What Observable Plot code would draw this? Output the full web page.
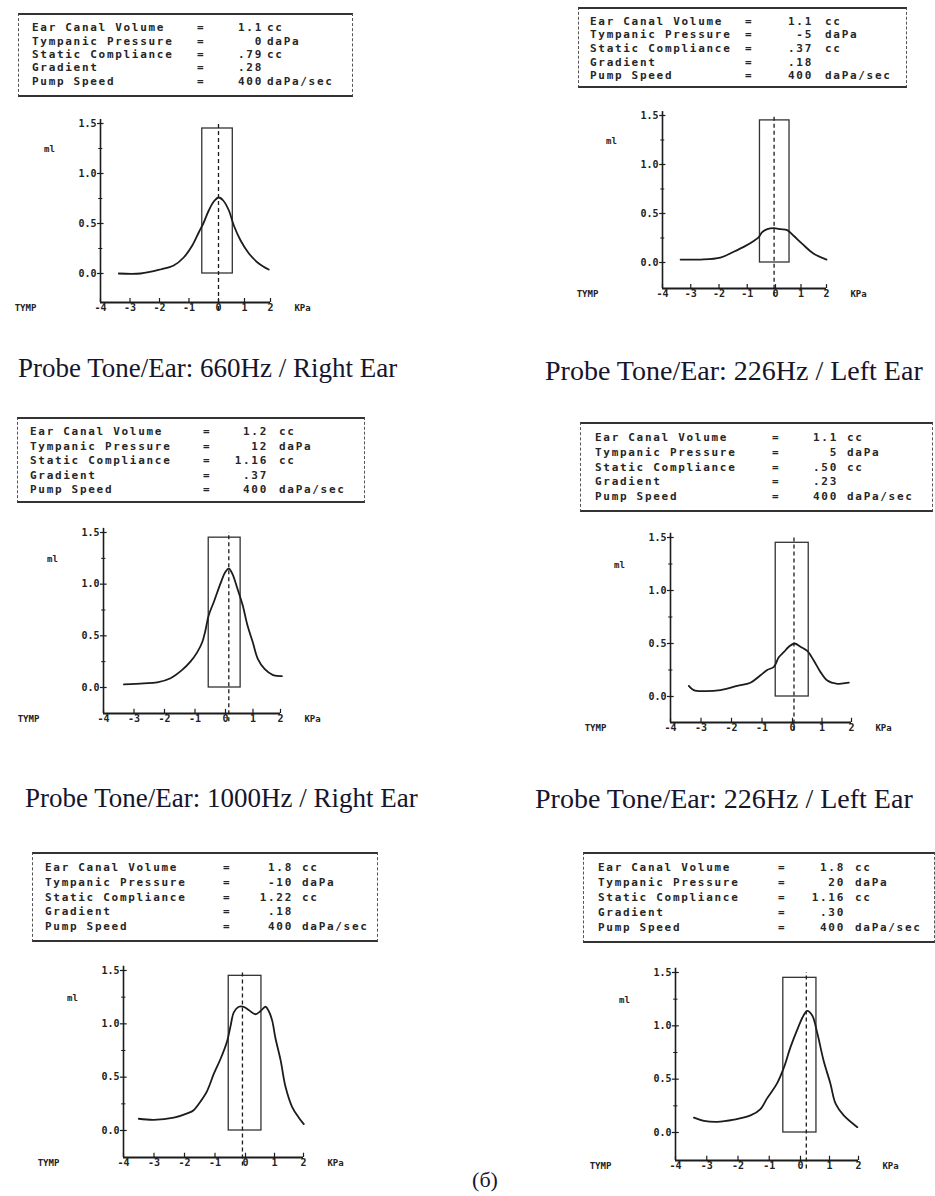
<!DOCTYPE html>
<html><head><meta charset="utf-8">
<script src="https://cdn.jsdelivr.net/npm/d3@7"></script>
<script src="https://cdn.jsdelivr.net/npm/@observablehq/plot@0.6"></script>
<style>
body{margin:0;background:#fff;width:935px;height:1196px;position:relative;overflow:hidden}
.box{position:absolute;box-sizing:border-box;border-top:2px solid #333;border-bottom:2px solid #333;border-left:1.5px dashed #555;border-right:1.5px dashed #555}
.row{position:absolute;font-family:"DejaVu Sans Mono",monospace;font-size:11px;font-weight:bold;letter-spacing:1.7px;color:#262626;white-space:pre;line-height:12px;height:12px}
.row span{position:absolute;top:0}
.cap{position:absolute;font-family:"Liberation Serif",serif;color:#15152e;white-space:pre;line-height:1}
</style></head>
<body>
<script>
// ---------------- data ----------------
const infoLabels = ["Ear Canal Volume", "Tympanic Pressure", "Static Compliance", "Gradient", "Pump Speed"];
const infoUnits = ["cc", "daPa", "cc", "", "daPa/sec"];
const values1 = ["1.1", "0", ".79", ".28", "400"];
const values2 = ["1.1", "-5", ".37", ".18", "400"];
const values3 = ["1.2", "12", "1.16", ".37", "400"];
const values4 = ["1.1", "5", ".50", ".23", "400"];
const values5 = ["1.8", "-10", "1.22", ".18", "400"];
const values6 = ["1.8", "20", "1.16", ".30", "400"];
const tympPressure = [0, -5, 12, 5, -10, 20]; // daPa, dashed marker
const captions = ["Probe Tone/Ear: 660Hz / Right Ear", "Probe Tone/Ear: 226Hz / Left Ear",
                  "Probe Tone/Ear: 1000Hz / Right Ear", "Probe Tone/Ear: 226Hz / Left Ear"];
const footnote = "(б)";
const xTicks = [-4, -3, -2, -1, 0, 1, 2];
const yTicks = [0, 0.5, 1.0, 1.5];
const yMinorTicks = [0.25, 0.75, 1.25];
const normalBoxX = [-0.55, 0.55];
const normalBoxY = [0, 1.45];

const curve1 = [[-3.38,0.00],[-2.64,0.00],[-1.97,0.04],[-1.52,0.08],[-1.18,0.16],[-0.89,0.28],[-0.67,0.41],[-0.50,0.51],[-0.33,0.63],[-0.16,0.72],[0.01,0.76],[0.18,0.73],[0.40,0.63],[0.59,0.48],[0.85,0.33],[1.17,0.20],[1.55,0.10],[1.93,0.04]];
const curve2 = [[-3.36,0.03],[-2.65,0.03],[-1.95,0.05],[-1.48,0.11],[-1.06,0.17],[-0.77,0.22],[-0.59,0.26],[-0.47,0.31],[-0.29,0.34],[-0.06,0.35],[0.20,0.34],[0.46,0.33],[0.72,0.27],[1.05,0.19],[1.50,0.09],[2.00,0.03]];
const curve3 = [[-3.33,0.03],[-2.68,0.04],[-2.24,0.05],[-1.80,0.09],[-1.42,0.17],[-1.15,0.25],[-0.93,0.34],[-0.76,0.44],[-0.66,0.55],[-0.55,0.70],[-0.38,0.83],[-0.16,1.01],[0.00,1.12],[0.12,1.15],[0.25,1.10],[0.43,0.96],[0.62,0.80],[0.80,0.60],[0.99,0.44],[1.17,0.28],[1.42,0.18],[1.73,0.12],[2.05,0.11]];
const curve4 = [[-3.40,0.10],[-3.24,0.06],[-2.91,0.05],[-2.36,0.06],[-1.81,0.10],[-1.38,0.13],[-1.05,0.20],[-0.83,0.25],[-0.61,0.28],[-0.45,0.37],[-0.28,0.42],[-0.12,0.47],[0.07,0.50],[0.27,0.47],[0.50,0.43],[0.72,0.34],[0.95,0.23],[1.18,0.15],[1.52,0.12],[1.91,0.13]];
const curve5 = [[-3.50,0.11],[-3.01,0.10],[-2.35,0.12],[-1.91,0.16],[-1.70,0.19],[-1.48,0.27],[-1.26,0.37],[-1.04,0.53],[-0.82,0.67],[-0.60,0.84],[-0.49,0.98],[-0.38,1.11],[-0.22,1.16],[-0.06,1.16],[0.11,1.13],[0.34,1.09],[0.52,1.12],[0.69,1.16],[0.80,1.12],[0.92,1.03],[1.03,0.87],[1.21,0.66],[1.38,0.41],[1.61,0.22],[1.84,0.12],[2.01,0.06]];
const curve6 = [[-3.41,0.14],[-3.09,0.11],[-2.67,0.10],[-2.13,0.12],[-1.60,0.16],[-1.28,0.22],[-1.07,0.32],[-0.75,0.46],[-0.53,0.61],[-0.32,0.80],[-0.11,0.96],[0.11,1.10],[0.23,1.14],[0.40,1.10],[0.58,0.93],[0.80,0.67],[1.03,0.46],[1.21,0.27],[1.49,0.16],[1.96,0.05]];

const allValues = [values1, values2, values3, values4, values5, values6];
const allCurves = [curve1, curve2, curve3, curve4, curve5, curve6];

// ---------------- layout (pixels) ----------------
const boxLayout = [
  {l:18, t:13, r:353, b:97, tx:32, y0:28.3, dy:13.35, eq:165, vr:231, un:235},
  {l:578, t:7, r:907, b:88, tx:590, y0:21.7, dy:13.6, eq:155, vr:223, un:235},
  {l:17, t:417, r:365, b:503, tx:30, y0:432, dy:14.5, eq:173, vr:238, un:249},
  {l:580, t:422, r:933, b:512, tx:595, y0:438, dy:14.8, eq:177, vr:243, un:252},
  {l:32, t:852, r:378, b:942, tx:45, y0:868, dy:14.8, eq:178, vr:248, un:257},
  {l:583, t:852, r:935, b:943, tx:598, y0:868, dy:15, eq:180, vr:247, un:257}
];
const chartLayout = [
  {xm4:100, x0:218, x2:270, top:123, zero:273, ax:302},
  {xm4:662, x0:775, x2:826, top:115, zero:262, ax:288},
  {xm4:103, x0:225, x2:280, top:532, zero:687, ax:713},
  {xm4:670, x0:792, x2:851, top:537, zero:696, ax:722},
  {xm4:123, x0:245, x2:303, top:970, zero:1130, ax:1157},
  {xm4:675, x0:800, x2:858, top:972, zero:1132, ax:1160}
];
const capLayout = [
  {x:18, top:355.4, size:27}, {x:545, top:356.5, size:28},
  {x:25, top:785.4, size:27}, {x:535, top:784.5, size:28}
];

function el(tag, cls, css, text) {
  const e = document.createElement(tag);
  if (cls) e.className = cls;
  Object.assign(e.style, css);
  if (text != null) e.textContent = text;
  document.body.appendChild(e);
  return e;
}

// info boxes
allValues.forEach((vals, i) => {
  const B = boxLayout[i];
  el("div", "box", {left: B.l+"px", top: B.t+"px", width: (B.r-B.l)+"px", height: (B.b-B.t)+"px"});
  infoLabels.forEach((lab, k) => {
    const row = el("div", "row", {left: B.tx+"px", top: (B.y0 + k*B.dy - 6)+"px", width: (B.r - B.tx - 4)+"px"});
    const a = document.createElement("span"); a.textContent = lab; a.style.left = "0px"; row.appendChild(a);
    const e = document.createElement("span"); e.textContent = "="; e.style.left = B.eq+"px"; row.appendChild(e);
    const v = document.createElement("span"); v.textContent = vals[k]; v.style.right = (B.r - B.tx - 4 - B.vr)+"px"; row.appendChild(v);
    const u = document.createElement("span"); u.textContent = infoUnits[k]; u.style.left = B.un+"px"; row.appendChild(u);
  });
});

// captions
captions.forEach((c, i) => {
  const C = capLayout[i];
  el("div", "cap", {left: C.x+"px", top: C.top+"px", fontSize: C.size+"px"}, c);
});
el("div", "cap", {left: "435px", top: "1169px", width: "100px", textAlign: "center", fontSize: "22px"}, footnote);

// tympanograms
const fmtX = d => d < 0 ? "-" + Math.abs(d) : String(d);
allCurves.forEach((curve, i) => {
  const L = chartLayout[i];
  const ML = 90, MR = 50, MT = 12, MB = 24;
  const w = ML + (L.x2 - L.xm4) + MR;
  const h = MT + (L.ax - L.top) + MB;
  const yMin = -1.5 * (L.ax - L.zero) / (L.zero - L.top);
  // the printed pressure axis is not uniform: warp so that 0 sits where it is printed
  const w0 = -4 + 6 * (L.x0 - L.xm4) / (L.x2 - L.xm4);
  const warp = d3.scaleLinear().domain([-4, 0, 2]).range([-4, w0, 2]);
  const p = tympPressure[i] / 100;
  const ink = "#1c1c1c";
  const chart = Plot.plot({
    width: w, height: h,
    marginLeft: ML, marginRight: MR, marginTop: MT, marginBottom: MB,
    x: {type: "linear", domain: [-4, 2], transform: warp},
    y: {domain: [yMin, 1.5]},
    style: {fontFamily: "'DejaVu Sans Mono', monospace", fontSize: "10px", fontWeight: "bold", color: "#222", background: "transparent", overflow: "visible"},
    marks: [
      Plot.ruleX([-4], {x: d => d, y1: yMin, y2: 1.54, stroke: ink, strokeWidth: 1.6}),
      Plot.ruleY([yMin], {y: d => d, x1: () => -4, x2: () => 2, stroke: ink, strokeWidth: 2}),
      Plot.ruleX(xTicks, {x: d => d, y1: yMin, y2: yMin + 0.04, stroke: ink, strokeWidth: 1.2}),
      Plot.ruleY(yTicks, {y: d => d, x1: () => -4.1, x2: () => -3.88, stroke: ink, strokeWidth: 1.2}),
      Plot.ruleY(yMinorTicks, {y: d => d, x1: () => -4.06, x2: () => -3.92, stroke: ink, strokeWidth: 1}),
      Plot.rect([0], {x1: () => normalBoxX[0], x2: () => normalBoxX[1], y1: () => normalBoxY[0], y2: () => normalBoxY[1], fill: "none", stroke: "#333", strokeWidth: 1.3}),
      Plot.ruleX([p], {x: d => d, y1: yMin - 0.08, y2: 1.5, stroke: ink, strokeWidth: 1.3, strokeDasharray: "4,3"}),
      Plot.line(curve, {x: d => d[0], y: d => d[1], curve: "catmull-rom", stroke: ink, strokeWidth: 1.8}),
      Plot.axisX(xTicks, {tickSize: 0, tickPadding: 1, tickFormat: fmtX, label: null}),
      Plot.axisY(yTicks, {tickSize: 0, tickPadding: 4, tickFormat: d => d.toFixed(1), label: null}),
      Plot.text([0], {x: () => -4, y: () => yMin, text: () => "TYMP", dx: -75, dy: 6, fontSize: 9}),
      Plot.text([0], {x: () => 2, y: () => yMin, text: () => "KPa", dx: 32, dy: 6, fontSize: 9}),
      Plot.text([0], {x: () => -4, y: () => 1.24, text: () => "ml", dx: -51, fontSize: 9})
    ]
  });
  chart.style.position = "absolute";
  chart.style.left = (L.xm4 - ML) + "px";
  chart.style.top = (L.top - MT) + "px";
  document.body.appendChild(chart);
});
</script>
</body></html>
